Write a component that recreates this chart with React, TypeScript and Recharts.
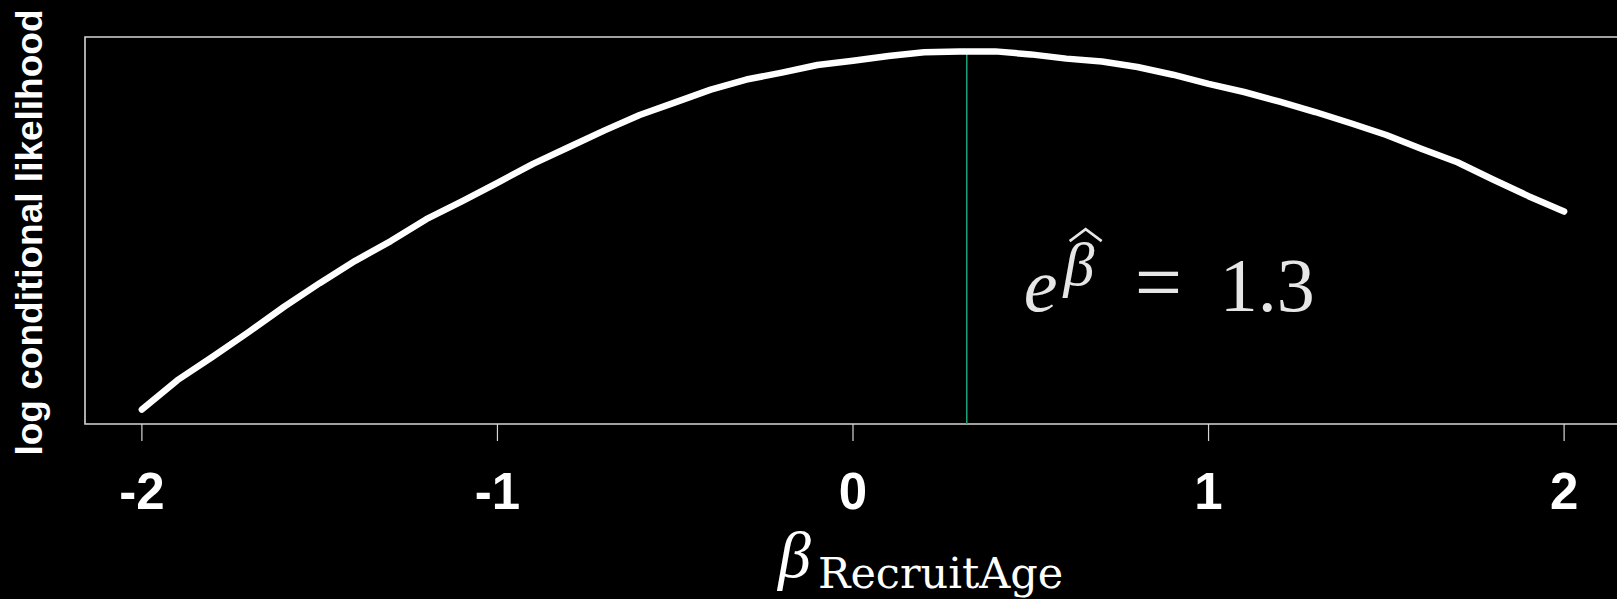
import { LineChart, Line, XAxis, YAxis, ReferenceLine, ReferenceArea, ReferenceDot, Label } from "recharts";

// profile of the log conditional likelihood over beta (relative to the max)
const betaGrid = [
  -2.0, -1.9, -1.8, -1.7, -1.6, -1.5, -1.4, -1.3, -1.2, -1.1, -1.0,
  -0.9, -0.8, -0.7, -0.6, -0.5, -0.4, -0.3, -0.2, -0.1, 0.0,
  0.1, 0.2, 0.3, 0.4, 0.5, 0.6, 0.7, 0.8, 0.9, 1.0,
  1.1, 1.2, 1.3, 1.4, 1.5, 1.6, 1.7, 1.8, 1.9, 2.0,
];
const logLik = [
  -35.63, -32.7, -30.35, -27.92, -25.4, -23.05, -20.83, -18.87, -16.69, -14.91, -13.07,
  -11.19, -9.53, -7.88, -6.33, -5.07, -3.81, -2.8, -2.11, -1.35, -0.93,
  -0.46, -0.08, 0.0, 0.0, -0.3, -0.72, -1.01, -1.55, -2.32, -3.23,
  -4.04, -5.0, -6.03, -7.15, -8.32, -9.7, -11.03, -12.74, -14.4, -15.93,
];
const xTicks = [-2, -1, 0, 1, 2];
const betaHat = 0.32;
const oddsRatio = "1.3";
const yTitle = "log conditional likelihood";
const xTitleSymbol = "β";
const xTitleSub = "RecruitAge";

const data = betaGrid.map((b, i) => ({ beta: b, ll: logLik[i] }));

const X_DOMAIN: [number, number] = [-2.16, 2.16];
const Y_DOMAIN: [number, number] = [-37.06, 1.43];
const BOX = "#d6d6d6";

const FormulaLabel = (props: any) => {
  const vb = props.viewBox || {};
  const x = vb.x ?? 0;
  const y = vb.y ?? 0;
  // the hat over beta is drawn as a small accent stroke
  return (
    <g fill="#e6e6e6" fontFamily="'Liberation Serif', 'Times New Roman', serif">
      <text x={x} y={y} fontSize={76} fontStyle="italic">
        e
        <tspan dx={6} dy={-26} fontSize={62}>β</tspan>
      </text>
      <path
        d={`M${x + 46},${y - 70} L${x + 62},${y - 82} L${x + 78},${y - 70}`}
        fill="none"
        stroke="#e6e6e6"
        strokeWidth={2.6}
        strokeLinejoin="miter"
      />
      <text x={x + 111} y={y} fontSize={84}>=</text>
      <text x={x + 196} y={y} fontSize={76}>{oddsRatio}</text>
    </g>
  );
};

const XTitle = (props: any) => {
  const vb = props.viewBox || {};
  const x = (vb.x ?? 0) + 693;
  const y = (vb.y ?? 0) + 153;
  return (
    <text x={x} y={y} fill="#ffffff">
      <tspan fontSize={66} fontStyle="italic" fontFamily="'Liberation Serif', serif">{xTitleSymbol}</tspan>
      <tspan x={x + 40} dy={11} fontSize={43} fontFamily="'DejaVu Serif', serif">{xTitleSub}</tspan>
    </text>
  );
};

const YTitle = (props: any) => {
  const vb = props.viewBox || {};
  const cy = (vb.y ?? 0) + (vb.height ?? 0) / 2 + 2;
  const cx = 42;
  return (
    <text
      x={cx}
      y={cy}
      transform={`rotate(-90, ${cx}, ${cy})`}
      textAnchor="middle"
      fill="#ffffff"
      fontSize={37}
      fontWeight="bold"
      fontFamily="'Liberation Sans', Arial, sans-serif"
    >
      {yTitle}
    </text>
  );
};

export default function App() {
  return (
    <div style={{ position: "fixed", left: 0, top: 0, width: 1617, height: 599, overflow: "hidden", background: "#000" }}>
      <LineChart width={1700} height={599} data={data} margin={{ top: 37, right: 79, bottom: 0, left: 0 }}>
        <XAxis
          dataKey="beta"
          type="number"
          domain={X_DOMAIN}
          ticks={xTicks}
          allowDataOverflow
          axisLine={false}
          tickLine={{ stroke: BOX, strokeWidth: 1.2 }}
          tickSize={17}
          tickMargin={32}
          height={175}
          tick={{ fill: "#ffffff", fontSize: 51, fontWeight: "bold", fontFamily: "'Liberation Sans', Arial, sans-serif" }}
        >
          <Label content={XTitle} />
        </XAxis>
        <YAxis
          type="number"
          domain={Y_DOMAIN}
          allowDataOverflow
          width={85}
          tick={false}
          axisLine={false}
          tickLine={false}
        >
          <Label content={YTitle} />
        </YAxis>
        <ReferenceArea
          x1={X_DOMAIN[0]}
          x2={X_DOMAIN[1]}
          y1={Y_DOMAIN[0]}
          y2={Y_DOMAIN[1]}
          fill="none"
          stroke={BOX}
          strokeWidth={1.6}
          ifOverflow="visible"
        />
        <ReferenceLine
          segment={[{ x: betaHat, y: Y_DOMAIN[0] }, { x: betaHat, y: 0.1 }]}
          stroke="#1fa37c"
          strokeWidth={1.5}
        />
        <Line
          type="linear"
          dataKey="ll"
          stroke="#ffffff"
          strokeWidth={6.5}
          strokeLinecap="round"
          strokeLinejoin="round"
          dot={false}
          isAnimationActive={false}
        />
        <ReferenceDot x={0.48} y={-25.83} r={0} fill="none" stroke="none" label={{ content: FormulaLabel }} />
      </LineChart>
    </div>
  );
}
